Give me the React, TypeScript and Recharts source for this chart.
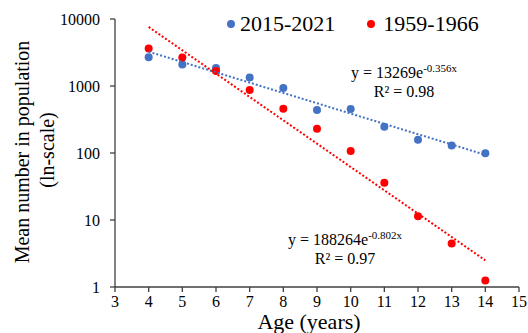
import React from 'react';
import { ComposedChart, Scatter, XAxis, YAxis, Label } from 'recharts';

const ages = [4, 5, 6, 7, 8, 9, 10, 11, 12, 13, 14];
const recent = [2680, 2100, 1860, 1345, 933, 437, 452, 246, 157, 129, 99];
const historic = [3616, 2656, 1676, 871, 457, 230, 107, 36, 11.4, 4.47, 1.25];

// trendline endpoints
const trendAges = [4, 14];
const recentTrend = [3250, 94];
const historicTrend = [7612, 2.5];

const xTicks = [3, 4, 5, 6, 7, 8, 9, 10, 11, 12, 13, 14, 15];
const yTicks = [1, 10, 100, 1000, 10000];

const BLUE = '#4472C4';
const RED = '#FF0000';
const FONT = 'Liberation Serif, Times New Roman, serif';

const recentData = ages.map((a, i) => ({ age: a, n: recent[i] }));
const historicData = ages.map((a, i) => ({ age: a, n: historic[i] }));
const recentTrendData = trendAges.map((a, i) => ({ age: a, n: recentTrend[i] }));
const historicTrendData = trendAges.map((a, i) => ({ age: a, n: historicTrend[i] }));

const dot = (color: string) => (props: any) => (
  <circle cx={props.cx} cy={props.cy} r={4} fill={color} />
);
const none = () => <g />;

const XTick = (props: any) => (
  <text x={props.x} y={props.y} dy={11} textAnchor="middle" fontFamily={FONT} fontSize={16} fill="#000">
    {props.payload.value}
  </text>
);

const YTick = (props: any) => (
  <text x={props.x} y={props.y} dy={5.5} textAnchor="end" fontFamily={FONT} fontSize={16} fill="#000">
    {props.payload.value}
  </text>
);

const yTitle = () => (
  <g fontFamily={FONT} fontSize={20} fill="#000">
    <text x={22} y={152} transform="rotate(-90 22 152)" textAnchor="middle" dominantBaseline="central">
      Mean number in population
    </text>
    <text x={47} y={150} transform="rotate(-90 47 150)" textAnchor="middle" dominantBaseline="central">
      (ln-scale)
    </text>
  </g>
);

const xTitle = () => (
  <text x={309} y={329} textAnchor="middle" fontFamily={FONT} fontSize={22} fill="#000">
    Age (years)
  </text>
);

const eqStyle: React.CSSProperties = {
  position: 'absolute',
  fontFamily: FONT,
  fontSize: 16,
  color: '#000',
  textAlign: 'center',
  lineHeight: '19px',
  whiteSpace: 'nowrap',
};

const dotStyle = (color: string): React.CSSProperties => ({
  width: 8,
  height: 8,
  borderRadius: 4,
  background: color,
  display: 'inline-block',
});

export default function App() {
  return (
    <div style={{ position: 'absolute', left: 0, top: 0, width: 528, height: 333, background: '#fff', fontFamily: FONT }}>
      <ComposedChart width={528} height={333} margin={{ top: 19, right: 9, left: 0, bottom: 16 }}>
        <XAxis
          dataKey="age"
          type="number"
          domain={[3, 15]}
          ticks={xTicks}
          interval={0}
          height={30}
          tickSize={5}
          tickMargin={4}
          stroke="#404040"
          strokeWidth={1.3}
          tick={<XTick />}
        >
          <Label content={xTitle} />
        </XAxis>
        <YAxis
          dataKey="n"
          type="number"
          scale="log"
          domain={[1, 10000]}
          ticks={yTicks}
          interval={0}
          allowDataOverflow
          width={115}
          tickSize={5}
          tickMargin={10}
          stroke="#404040"
          strokeWidth={1.3}
          tick={<YTick />}
        >
          <Label content={yTitle} />
        </YAxis>
        <Scatter data={recentData} shape={dot(BLUE)} isAnimationActive={false} />
        <Scatter data={historicData} shape={dot(RED)} isAnimationActive={false} />
        <Scatter
          data={recentTrendData}
          shape={none}
          line={{ stroke: BLUE, strokeWidth: 2, strokeDasharray: '2 2' }}
          isAnimationActive={false}
        />
        <Scatter
          data={historicTrendData}
          shape={none}
          line={{ stroke: RED, strokeWidth: 2, strokeDasharray: '2 2' }}
          isAnimationActive={false}
        />
      </ComposedChart>
      {/* legend */}
      <div
        style={{
          position: 'absolute',
          left: 227,
          top: 9,
          fontSize: 22,
          lineHeight: '30px',
          color: '#000',
          display: 'flex',
          alignItems: 'center',
          whiteSpace: 'nowrap',
        }}
      >
        <span style={{ ...dotStyle(BLUE), marginRight: 5 }} />
        <span>2015-2021</span>
        <span style={{ ...dotStyle(RED), marginLeft: 32, marginRight: 8 }} />
        <span>1959-1966</span>
      </div>
      <div style={{ ...eqStyle, left: 351, top: 63 }}>
        y = 13269e<sup style={{ fontSize: 11, verticalAlign: 6, lineHeight: 0 }}>-0.356x</sup>
        <br />
        R² = 0.98
      </div>
      <div style={{ ...eqStyle, left: 288, top: 230 }}>
        y = 188264e<sup style={{ fontSize: 11, verticalAlign: 6, lineHeight: 0 }}>-0.802x</sup>
        <br />
        R² = 0.97
      </div>
    </div>
  );
}
